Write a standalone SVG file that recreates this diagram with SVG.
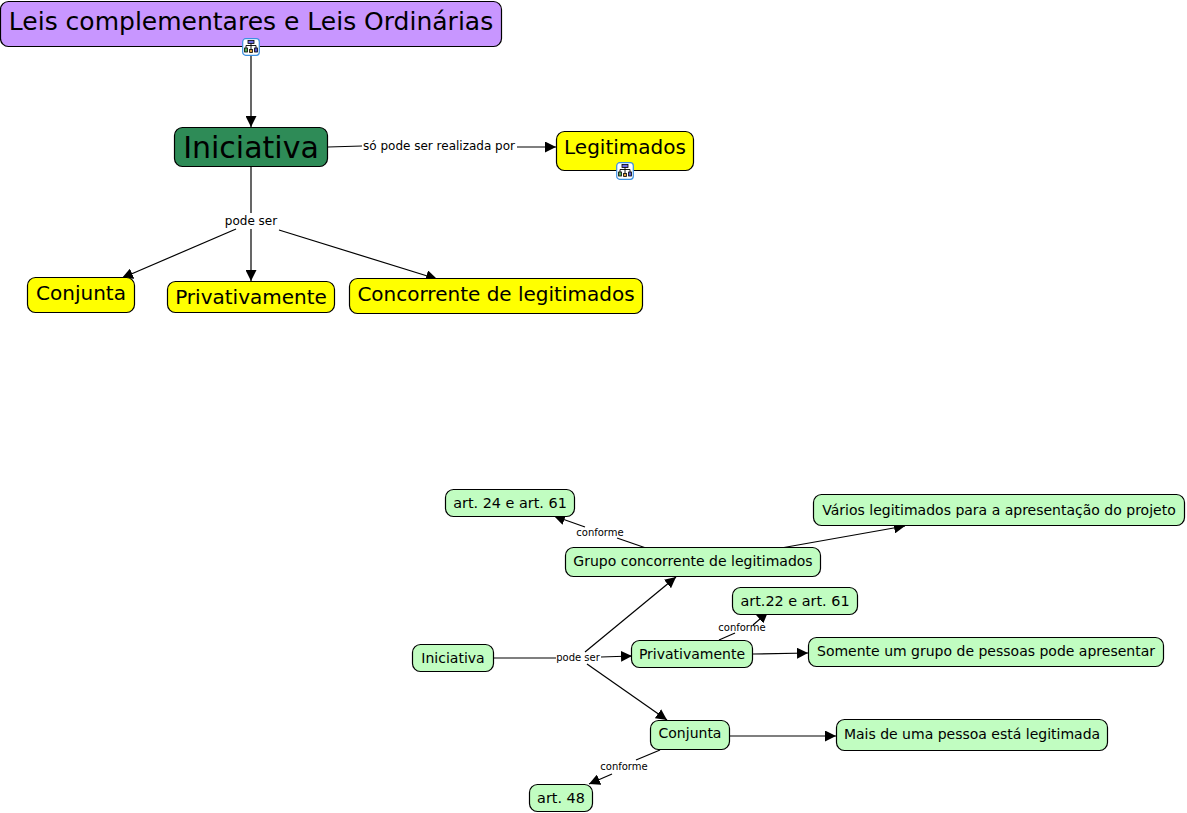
<svg xmlns="http://www.w3.org/2000/svg" width="1187" height="813" viewBox="0 0 1187 813">
<style>
text{font-family:"DejaVu Sans",Verdana,sans-serif;fill:#000;text-anchor:middle}
.n{stroke:#000;stroke-width:1.2}
.g{fill:#c1fdc1}.y{fill:#ffff00}
.c{fill:none;stroke:#000;stroke-width:1.2}
.a{fill:#000;stroke:none}
.l{font-size:12px}.s{font-size:10px}.m{font-size:14px}.w{font-size:14.4px}
.b{font-size:20px}
</style>
<defs>
<marker id="h" markerUnits="userSpaceOnUse" markerWidth="12" markerHeight="11" refX="11" refY="5.500" orient="auto"><path class="a" d="M0 0L11 5.500L0 11Z"/></marker>
<symbol id="ic" viewBox="0 0 18 18" overflow="visible">
<rect x="0.7" y="0.7" width="16.6" height="16.6" rx="3" fill="#fff" stroke="#3b8fe0" stroke-width="1.2"/>
<path d="M9 5V13M4 10V7.500H14V10" fill="none" stroke="#000" stroke-width="0.9"/>
<rect x="6" y="2.500" width="6" height="3" fill="#6a6ae0" stroke="#000" stroke-width="0.8"/>
<rect x="2.600" y="10" width="2.800" height="4" fill="#5a5" stroke="#000" stroke-width="0.8"/>
<rect x="12.600" y="10" width="2.800" height="4" fill="#55c" stroke="#000" stroke-width="0.8"/>
<rect x="7.600" y="11.500" width="2.800" height="3" fill="#e0a040" stroke="#000" stroke-width="0.8"/>
</symbol>
</defs>
<g id="connectors">
<path class="c" marker-end="url(#h)" d="M251 55V127"/>
<path class="c" d="M328 147L362 146"/>
<path class="c" marker-end="url(#h)" d="M517 147H556"/>
<path class="c" d="M251 167V213"/>
<path class="c" marker-end="url(#h)" d="M236 229L122 278"/>
<path class="c" marker-end="url(#h)" d="M251 229V281"/>
<path class="c" marker-end="url(#h)" d="M279 230L437 279"/>
<path class="c" d="M494 658H556"/>
<path class="c" marker-end="url(#h)" d="M585 652L676 577"/>
<path class="c" marker-end="url(#h)" d="M601 657L632 656"/>
<path class="c" marker-end="url(#h)" d="M587 664L667 720"/>
<path class="c" d="M646 548L617 538"/>
<path class="c" marker-end="url(#h)" d="M585 527L554 516"/>
<path class="c" marker-end="url(#h)" d="M781 548L905 526"/>
<path class="c" d="M719 640L735 633"/>
<path class="c" marker-end="url(#h)" d="M753 625L768 612"/>
<path class="c" marker-end="url(#h)" d="M753 654L808 653"/>
<path class="c" marker-end="url(#h)" d="M730 736H836"/>
<path class="c" d="M660 750L636 760"/>
<path class="c" marker-end="url(#h)" d="M612 774L589 784"/>
</g>
<g id="link-labels">
<text class="l" x="439" y="150">só pode ser realizada por</text>
<text class="l" x="251" y="225">pode ser</text>
<text class="s" x="600" y="536">conforme</text>
<text class="s" x="578" y="661">pode ser</text>
<text class="s" x="742" y="631">conforme</text>
<text class="s" x="624" y="770">conforme</text>
</g>
<g id="n1"><rect class="n" fill="#c896ff" x="0.500" y="1.500" width="501" height="45" rx="8"/><text x="251" y="30" font-size="25">Leis complementares e Leis Ordinárias</text></g>
<use id="icon1" href="#ic" x="242" y="38" width="18" height="18"/>
<g id="n2"><rect class="n" fill="#2e8b57" x="174.500" y="127.500" width="153" height="39" rx="8"/><text x="251" y="158" font-size="30">Iniciativa</text></g>
<g id="n3"><rect class="n y" x="556.500" y="131.500" width="137" height="39" rx="8"/><text x="625" y="154" class="b">Legitimados</text></g>
<use id="icon2" href="#ic" x="616" y="162" width="18" height="18"/>
<g id="n4"><rect class="n y" x="27.500" y="277.500" width="107" height="35" rx="8"/><text x="81" y="300" class="b">Conjunta</text></g>
<g id="n5"><rect class="n y" x="167.500" y="281.500" width="167" height="31" rx="8"/><text x="251" y="304" class="b">Privativamente</text></g>
<g id="n6"><rect class="n y" x="349.500" y="278.500" width="293" height="35" rx="8"/><text x="496" y="301" class="b">Concorrente de legitimados</text></g>
<g id="n7"><rect class="n g" x="445.500" y="489.500" width="129" height="27" rx="8"/><text class="w" x="510" y="508">art. 24 e art. 61</text></g>
<g id="n8"><rect class="n g" x="813.500" y="494.500" width="371" height="31" rx="8"/><text class="m" x="999" y="515">Vários legitimados para a apresentação do projeto</text></g>
<g id="n9"><rect class="n g" x="565.500" y="547.500" width="255" height="29" rx="8"/><text class="m" x="693" y="566">Grupo concorrente de legitimados</text></g>
<g id="n10"><rect class="n g" x="732.500" y="587.500" width="125" height="27" rx="8"/><text class="w" x="795" y="606">art.22 e art. 61</text></g>
<g id="n11"><rect class="n g" x="631.500" y="640.500" width="121" height="27" rx="8"/><text class="m" x="692" y="659">Privativamente</text></g>
<g id="n12"><rect class="n g" x="808.500" y="637.500" width="355" height="29" rx="8"/><text class="m" x="986" y="656">Somente um grupo de pessoas pode apresentar</text></g>
<g id="n13"><rect class="n g" x="412.500" y="644.500" width="81" height="27" rx="8"/><text class="m" x="453" y="663">Iniciativa</text></g>
<g id="n14"><rect class="n g" x="650.500" y="720.500" width="79" height="29" rx="8"/><text class="m" x="690" y="738">Conjunta</text></g>
<g id="n15"><rect class="n g" x="836.500" y="719.500" width="271" height="31" rx="8"/><text class="m" x="972" y="739">Mais de uma pessoa está legitimada</text></g>
<g id="n16"><rect class="n g" x="529.500" y="784.500" width="63" height="27" rx="8"/><text class="w" x="561" y="803">art. 48</text></g>
</svg>
